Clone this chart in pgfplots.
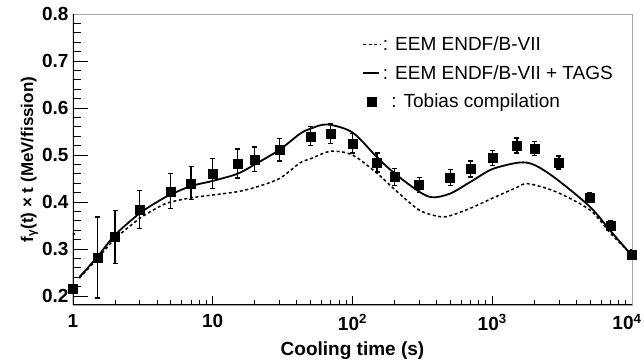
\documentclass[border=0pt]{standalone}
\usepackage{fontspec}
\setmainfont{Liberation Sans}
\usepackage{pgfplots}
\usepackage{pgfplotstable}
\pgfplotsset{compat=1.18}
\pgfplotsset{
  legA/.style={legend image code/.code={\draw[##1] (0pt,0pt) -- (18pt,0pt);}},
  legB/.style={legend image code/.code={\draw[##1] (0pt,0pt) -- (16pt,0pt);}},
}
\pgfplotstableread{
t y e
1 0.215 0.117
1.5 0.282 0.086
2 0.326 0.056
3 0.384 0.041
5 0.423 0.037
7 0.440 0.035
10 0.461 0.032
15 0.482 0.031
20 0.491 0.026
30 0.511 0.024
50 0.540 0.020
70 0.545 0.021
100 0.525 0.021
150 0.484 0.020
200 0.453 0.018
300 0.436 0.016
500 0.452 0.017
700 0.470 0.017
1000 0.494 0.016
1500 0.520 0.016
2000 0.514 0.015
3000 0.484 0.014
5000 0.410 0.010
7000 0.350 0.010
10000 0.289 0.010
}\tobias
\pgfplotstableread{
t y
1.11 0.240
1.5 0.284
2 0.330
3 0.376
4.2 0.404
5 0.416
7 0.434
10 0.445
15 0.460
20 0.480
30 0.511
42 0.545
50 0.556
66 0.565
100 0.548
150 0.495
200 0.461
300 0.422
375 0.410
500 0.418
700 0.443
1000 0.470
1560 0.484
2000 0.479
2850 0.450
5000 0.390
7000 0.339
10000 0.286
}\tags
\pgfplotstableread{
t y
1.11 0.238
1.5 0.280
2 0.322
3 0.365
4.2 0.391
5 0.400
7 0.409
10 0.415
15 0.422
20 0.431
30 0.450
42 0.483
50 0.492
70 0.508
100 0.500
150 0.461
200 0.427
300 0.383
420 0.369
500 0.371
700 0.387
1000 0.408
1500 0.431
1800 0.439
2850 0.422
5000 0.383
7000 0.334
10000 0.287
}\eem
\begin{document}
\begin{tikzpicture}
\begin{axis}[
  scale only axis, width=559pt, height=291pt,
  xmode=log, xmin=1, xmax=10000, ymin=0.181, ymax=0.8,
  axis line style={gray!70, line width=0.6pt},
  tick align=inside, xtick pos=bottom, ytick pos=left,
  tick style={black, line width=0.8pt},
  major tick length=15pt, minor tick length=8pt,
  xtick style={/pgfplots/major tick length=9pt, /pgfplots/minor tick length=5pt},
  xtick={1,10,100,1000,10000},
  xticklabels={1,10,10\textsuperscript{2},10\textsuperscript{3},10\textsuperscript{4}\kern10pt\null},
  minor xtick={2,3,4,5,6,7,8,9,20,30,40,50,60,70,80,90,200,300,400,500,600,700,800,900,2000,3000,4000,5000,6000,7000,8000,9000},
  ytick={0.2,0.3,0.4,0.5,0.6,0.7,0.8},
  minor y tick num=4,
  yticklabel style={xshift=-1pt, /pgf/number format/.cd, fixed, fixed zerofill, precision=1},
  /pgf/number format/assume math mode=true,
  ticklabel style={font=\fontsize{19}{22}\selectfont\bfseries},
  xticklabel style={yshift=-6pt},
  label style={font=\fontsize{19}{22}\selectfont\bfseries},
  xlabel={Cooling time (s)},
  ylabel={f\textsubscript{γ}(t) × t (MeV/fission)},
  ylabel style={font=\fontsize{17}{21}\selectfont\bfseries, yshift=-3pt},
  xlabel style={yshift=-5pt},
  legend style={at={(rel axis cs:0.517,0.935)}, anchor=north west, draw=none, fill=none,
    font=\fontsize{19}{22}\selectfont, row sep=5pt, inner sep=0pt,
    nodes={inner xsep=1pt, inner ysep=4pt}},
  legend cell align=left,
]
\addplot[black, line width=1.5pt, dash pattern=on 3pt off 2.6pt, smooth, legA] table[x=t,y=y] {\eem};
\addlegendentry{: EEM ENDF/B-VII}
\addplot[black, line width=1.8pt, smooth, legB] table[x=t,y=y] {\tags};
\addlegendentry{: EEM ENDF/B-VII + TAGS}
\addplot[black, only marks, mark=square*, mark size=4.5pt,
  error bars/.cd, y dir=both, y explicit,
  error bar style={line width=1.3pt},
  error mark options={rotate=90, line width=1.3pt, mark size=2.5pt}]
  table[x=t,y=y,y error=e] {\tobias};
\addlegendentry{\, : Tobias compilation}
\draw[black, line width=1.2pt] (rel axis cs:0,1) -- (rel axis cs:0,0) -- (rel axis cs:1,0);
\end{axis}
\pgfresetboundingbox
\path[use as bounding box] ([xshift=-73pt,yshift=-57pt]current axis.south west) rectangle ([xshift=12pt,yshift=14pt]current axis.north east);
\end{tikzpicture}
\end{document}
